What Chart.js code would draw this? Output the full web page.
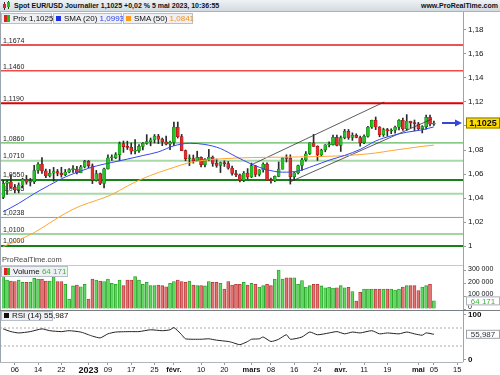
<!DOCTYPE html>
<html>
<head>
<meta charset="utf-8">
<script src="https://cdn.jsdelivr.net/npm/chart.js@4.4.1/dist/chart.umd.min.js"></script>
<style>
  body { margin: 0; width: 500px; height: 375px; position: relative; overflow: hidden; background: #fff;
         font-family: "Liberation Sans", Arial, sans-serif; color: #111; }
  canvas { position: absolute; left: 0; }
  #hdr { position: absolute; left: 0; top: 0; width: 500px; height: 12px; box-sizing: border-box;
         background: linear-gradient(#eef2f5, #d2dae1); border-bottom: 1px solid #a7b2bc;
         font-size: 7px; font-weight: bold; line-height: 11px; }
  #hdr .t { position: absolute; left: 14px; top: 0; }
  #hdr .r { position: absolute; right: 2px; top: 0; }
  .box { position: absolute; height: 11px; line-height: 9px; font-size: 8px; box-sizing: border-box;
         background: #eef0f3; border: 1px solid #b7bfc8; padding-left: 2px; white-space: nowrap; }
  .sq { display: inline-block; width: 5px; height: 5px; margin-right: 3px; }
  .rg { display: inline-block; width: 6px; height: 7px; margin-right: 3px; vertical-align: -1px;
        background: linear-gradient(90deg, #d22 50%, #2b2 50%); }
  .ln { position: absolute; }
  .wm { position: absolute; left: 2px; top: 255px; font-size: 7.5px; color: #444; }
</style>
</head>
<body>
<div id="hdr">
  <span class="ln" style="left:4px;top:2px;width:1px;height:8px;background:#333"></span>
  <span class="ln" style="left:3px;top:4px;width:3px;height:4px;background:#d22"></span>
  <span class="ln" style="left:8px;top:1px;width:1px;height:8px;background:#333"></span>
  <span class="ln" style="left:7px;top:2px;width:3px;height:5px;background:#2b2"></span>
  <span class="t">Spot EUR/USD Journalier 1,1025 +0,02 % 5 mai 2023, 10:36:55</span>
  <span class="r">www.ProRealTime.com</span>
</div>

<canvas id="main" width="500" height="242" style="top:11px"></canvas>
<canvas id="vol" width="500" height="50" style="top:265px"></canvas>
<canvas id="rsi" width="500" height="70" style="top:305px"></canvas>

<div class="ln" style="left:0;top:12px;width:1px;height:350px;background:#9aa4ad"></div>
<div class="ln" style="left:463px;top:12px;width:1px;height:350px;background:#9aa4ad"></div>
<div class="ln" style="left:0;top:265px;width:463px;height:1px;background:#c4cad0"></div>
<div class="ln" style="left:0;top:310px;width:500px;height:1px;background:#7a7f85"></div>
<div class="ln" style="left:0;top:362px;width:463px;height:1px;background:#b0b6bc"></div>

<div class="box" style="left:1px;top:13px;width:51px"><span class="rg"></span>Prix 1,1025</div>
<div class="box" style="left:53px;top:13px;width:69px"><span class="sq" style="background:#1d2fe8"></span>SMA (20) <span style="color:#2b3ef0">1,0993</span></div>
<div class="box" style="left:123px;top:13px;width:70px"><span class="sq" style="background:#ff9a1a"></span>SMA (50) <span style="color:#f5901a">1,0841</span></div>

<div class="wm">ProRealTime.com</div>
<div class="box" style="left:1px;top:266px;width:67px"><span class="rg"></span>Volume <span style="color:#3cb83c">64 171</span></div>
<div class="box" style="left:1px;top:311px;width:52px;height:10px;line-height:8px"><span class="sq" style="background:#111"></span>RSI (14) 55,987</div>

<script>
// daily candles, 1 Dec 2022 -> 5 May 2023 (index 0..111)
const opens = [1.0405,1.0522,1.0535,1.0491,1.0468,1.0507,1.0556,1.0532,1.0537,1.0629,
  1.0682,1.0626,1.0583,1.0606,1.0621,1.0606,1.0595,1.0616,1.0636,1.0640,
  1.0612,1.0659,1.0705,1.0669,1.0546,1.0603,1.0521,1.0643,1.0734,1.0737,
  1.0762,1.0853,1.0828,1.0822,1.0790,1.0795,1.0830,1.0855,1.0870,1.0884,
  1.0915,1.0890,1.0868,1.0848,1.0863,1.0990,1.0911,1.0795,1.0727,1.0728,
  1.0712,1.0739,1.0678,1.0722,1.0740,1.0688,1.0671,1.0695,1.0687,1.0649,
  1.0604,1.0594,1.0546,1.0608,1.0576,1.0668,1.0597,1.0635,1.0682,1.0546,
  1.0544,1.0580,1.0641,1.0732,1.0730,1.0577,1.0610,1.0671,1.0718,1.0769,
  1.0860,1.0830,1.0760,1.0800,1.0843,1.0845,1.0906,1.0839,1.0903,1.0955,
  1.0905,1.0922,1.0904,1.0862,1.0913,1.0990,1.1047,1.0992,1.0927,1.0970,
  1.0958,1.0966,1.0990,1.1048,1.0975,1.1040,1.1028,1.1019,1.0977,1.0995,
  1.1072,1.1015];
const highs = [1.0545,1.0545,1.0595,1.0513,1.0526,1.0565,1.0588,1.0564,1.0673,1.0695,
  1.0736,1.0640,1.0638,1.0655,1.0638,1.0656,1.0638,1.0645,1.0670,1.0664,
  1.0672,1.0714,1.0713,1.0684,1.0630,1.0608,1.0650,1.0760,1.0760,1.0778,
  1.0867,1.0875,1.0874,1.0858,1.0887,1.0845,1.0861,1.0928,1.0900,1.0929,
  1.0930,1.0900,1.0915,1.0874,1.1033,1.1033,1.0930,1.0800,1.0760,1.0758,
  1.0790,1.0743,1.0728,1.0805,1.0750,1.0725,1.0700,1.0710,1.0704,1.0665,
  1.0630,1.0599,1.0621,1.0645,1.0691,1.0672,1.0637,1.0694,1.0694,1.0565,
  1.0584,1.0700,1.0736,1.0760,1.0760,1.0613,1.0675,1.0730,1.0787,1.0860,
  1.0930,1.0835,1.0807,1.0845,1.0868,1.0925,1.0925,1.0917,1.0972,1.0971,
  1.0943,1.0935,1.0915,1.0926,1.0998,1.1049,1.1075,1.0995,1.0982,1.0980,
  1.0977,1.1000,1.1053,1.1067,1.1095,1.1040,1.1050,1.1030,1.1003,1.1092,
  1.1092,1.1040];
const lows = [1.0395,1.0429,1.0480,1.0443,1.0443,1.0484,1.0515,1.0500,1.0520,1.0604,
  1.0605,1.0570,1.0575,1.0540,1.0585,1.0574,1.0586,1.0608,1.0614,1.0600,
  1.0610,1.0651,1.0652,1.0520,1.0540,1.0511,1.0483,1.0640,1.0713,1.0728,
  1.0710,1.0780,1.0804,1.0766,1.0767,1.0779,1.0801,1.0847,1.0835,1.0858,
  1.0853,1.0836,1.0843,1.0802,1.0836,1.0900,1.0794,1.0710,1.0670,1.0690,
  1.0710,1.0660,1.0660,1.0710,1.0664,1.0656,1.0612,1.0663,1.0640,1.0590,
  1.0577,1.0533,1.0536,1.0560,1.0570,1.0578,1.0583,1.0616,1.0546,1.0524,
  1.0536,1.0577,1.0640,1.0700,1.0516,1.0550,1.0600,1.0630,1.0707,1.0762,
  1.0830,1.0713,1.0745,1.0785,1.0826,1.0840,1.0834,1.0788,1.0893,1.0889,
  1.0880,1.0901,1.0831,1.0853,1.0906,1.0980,1.0970,1.0910,1.0913,1.0915,
  1.0936,1.0940,1.0967,1.0964,1.0965,1.0985,1.0960,1.0967,1.0942,1.0974,
  1.1000,1.1005];
const closes = [1.0522,1.0535,1.0491,1.0468,1.0507,1.0556,1.0532,1.0537,1.0629,1.0682,
  1.0626,1.0583,1.0606,1.0621,1.0606,1.0595,1.0616,1.0636,1.0640,1.0612,
  1.0659,1.0705,1.0669,1.0546,1.0603,1.0521,1.0643,1.0734,1.0737,1.0762,
  1.0853,1.0828,1.0822,1.0790,1.0795,1.0830,1.0855,1.0870,1.0884,1.0915,
  1.0890,1.0868,1.0848,1.0863,1.0990,1.0911,1.0795,1.0727,1.0728,1.0712,
  1.0739,1.0678,1.0722,1.0740,1.0688,1.0671,1.0695,1.0687,1.0649,1.0604,
  1.0594,1.0546,1.0608,1.0576,1.0668,1.0597,1.0635,1.0682,1.0546,1.0544,
  1.0580,1.0641,1.0732,1.0730,1.0577,1.0610,1.0671,1.0718,1.0769,1.0860,
  1.0830,1.0760,1.0800,1.0843,1.0845,1.0906,1.0839,1.0903,1.0955,1.0905,
  1.0922,1.0904,1.0862,1.0913,1.0990,1.1047,1.0992,1.0927,1.0970,1.0958,
  1.0966,1.0990,1.1048,1.0975,1.1040,1.1028,1.1019,1.0977,1.0995,1.1072,
  1.1015,1.1025];
const volumes = [280000,229000,221000,216000,229000,211000,211000,211000,242000,237000,
  237000,221000,221000,255000,216000,216000,195000,79000,182000,189000,
  176000,195000,79000,237000,229000,221000,216000,237000,203000,195000,
  229000,184000,229000,229000,255000,229000,195000,211000,184000,184000,
  189000,184000,176000,203000,216000,229000,216000,211000,221000,189000,
  184000,184000,182000,216000,211000,211000,203000,158000,216000,189000,
  195000,195000,211000,189000,203000,195000,174000,184000,195000,184000,
  237000,308000,237000,247000,247000,247000,195000,224000,174000,184000,
  195000,195000,182000,168000,174000,166000,168000,184000,168000,171000,
  137000,63000,132000,158000,158000,158000,158000,158000,158000,158000,
  158000,150000,158000,174000,184000,184000,184000,145000,174000,184000,
  195000,64171];

// moving averages and RSI: [day index, value]
const sma20 = [[0,1.0285],[4,1.0355],[8,1.0436],[12,1.0508],[16,1.0575],[20,1.0625],[24,1.0667],
  [28,1.0696],[32,1.0724],[36,1.0754],[40,1.0784],[44,1.0835],[48,1.0856],[52,1.0846],[56,1.0812],
  [60,1.0745],[64,1.0682],[68,1.0636],[72,1.0615],[76,1.0625],[80,1.0668],[84,1.0715],[88,1.0755],
  [92,1.0805],[96,1.0875],[100,1.0918],[104,1.0948],[108,1.0968],[111,1.0993]];
const sma50 = [[0,0.9995],[4,1.0050],[8,1.0112],[12,1.0192],[16,1.0272],[20,1.0335],[24,1.0380],
  [28,1.0428],[32,1.0500],[36,1.0562],[40,1.0612],[44,1.0655],[48,1.0695],[52,1.0715],[56,1.0726],
  [60,1.0733],[64,1.0737],[68,1.0739],[72,1.0740],[76,1.0742],[80,1.0745],[84,1.0748],[88,1.0752],
  [92,1.0762],[96,1.0775],[100,1.0795],[104,1.0813],[108,1.0830],[111,1.0841]];
const rsi = [[0,68],[2,62],[4,59],[7,62],[10,68],[12,64],[15,62],[17,64],[20,61],[22,55],[23,52],
  [25,48],[27,57],[29,61],[33,62],[35,62],[38,66],[41,64],[43,66],[44,71],[46,55],[47,46],[51,45],
  [53,46],[55,43],[58,40],[59,38],[61,33],[63,40],[64,45],[66,46],[67,50],[69,40],[71,45],[73,55],
  [74,45],[77,50],[79,61],[81,55],[84,59],[86,62],[88,57],[90,61],[92,59],[95,64],[97,57],[99,59],
  [102,57],[104,61],[106,57],[108,54],[109,59],[111,55.987]];

// channel lines drawn on the price panel: [day index, price]
const trendUpper = [[63.6,1.0671],[98.2,1.1200]];
const trendLower = [[74.2,1.0538],[110.5,1.1058]];

const levelValues = [1.1674, 1.1460, 1.1190, 1.0860, 1.0710, 1.0550, 1.0435, 1.0238, 1.0100, 1.0000];
const levelColors = ['#e41b1b','#f04a4a','#e00000','#5cb85c','#a8d8a8','#178017','#a8d8a8','#66bb66','#44aa44','#178017'];
const levelWidths = [1.5, 1.5, 2, 1.2, 2, 2.2, 2, 1, 1, 2.2];

const priceTicks = [1.00, 1.02, 1.04, 1.06, 1.08, 1.10, 1.12, 1.14, 1.16, 1.18];
const volTicks = [0, 100000, 200000, 300000];
const rsiTicks = [0, 100];
const rsiLevels = [70, 30];

const tickIdx = [3, 9, 15, 22, 27, 33, 39, 44, 51, 57, 64, 69, 75, 81, 87, 93, 99, 107, 111, 117];
const tickText = ['06','14','22','2023','09','17','25','févr.','10','20','mars','08','16','24','avr.','11','19','mai','05','15'];

const fam = '"Liberation Sans", Arial, sans-serif';
Chart.defaults.font.family = fam;
Chart.defaults.animation = false;
Chart.defaults.plugins.legend.display = false;
Chart.defaults.plugins.tooltip.enabled = false;

const xMin = -0.3, xMax = 118.5;
const idx = closes.map((c, i) => i);
const up = closes.map((c, i) => c >= opens[i]);
const pts = arr => arr.map(([x, y]) => ({ x, y }));
const comma = (v, d) => v.toFixed(d).replace('.', ',');

function xScale(show) {
  return {
    type: 'linear', min: xMin, max: xMax, offset: false, display: show,
    afterFit: s => {
      s.height = show ? 13 : 0;
      s.paddingLeft = 0;
      s.paddingRight = 0;
    },
    afterBuildTicks: s => { s.ticks = tickIdx.map(v => ({ value: v })); },
    grid: { drawOnChartArea: false, tickLength: 3, color: '#999' },
    border: { display: false },
    ticks: {
      autoSkip: false, maxRotation: 0, padding: 0, color: '#111',
      callback: v => tickText[tickIdx.indexOf(v)],
      font: c => {
        const t = c.tick ? tickText[tickIdx.indexOf(c.tick.value)] : '';
        if (t === '2023') return { size: 9, weight: 'bold' };
        if (t && isNaN(+t)) return { size: 7.5, weight: 'bold' };
        return { size: 7.5 };
      }
    }
  };
}

function yScale(min, max, vals, fmt, font, labelOffset) {
  return {
    position: 'right', min, max,
    afterFit: s => { s.width = 37; s.paddingTop = 0; s.paddingBottom = 0; },
    afterBuildTicks: s => { s.ticks = vals.map(v => ({ value: v })); },
    grid: { drawOnChartArea: false, tickLength: 3, color: '#999' },
    border: { display: false },
    ticks: { padding: 2, color: '#111', font, labelOffset: labelOffset || 0, callback: fmt }
  };
}

// horizontal reference lines, drawn under the marks
function levelPlugin(values, colors, widths, dash, withLabels) {
  return {
    id: 'levels',
    beforeDatasetsDraw(chart) {
      const { ctx, chartArea: a } = chart;
      const y = chart.scales.y;
      values.forEach((v, i) => {
        const py = y.getPixelForValue(v);
        ctx.save();
        ctx.strokeStyle = colors[i];
        ctx.lineWidth = widths[i];
        ctx.setLineDash(dash);
        ctx.beginPath();
        ctx.moveTo(a.left - 2, py);
        ctx.lineTo(a.right, py);
        ctx.stroke();
        if (withLabels) {
          ctx.fillStyle = '#222';
          ctx.font = '7px ' + fam;
          ctx.textBaseline = 'alphabetic';
          ctx.fillText(comma(v, 4), a.left + 1, py - widths[i] / 2 - 1.5);
        }
        ctx.restore();
      });
    }
  };
}

// value tag in the right axis column
function tagPlugin(value, text, fill, stroke, color, bold) {
  return {
    id: 'tag',
    afterDraw(chart) {
      const { ctx, chartArea: a } = chart;
      const py = chart.scales.y.getPixelForValue(value);
      const h = bold ? 11 : 9;
      ctx.save();
      ctx.fillStyle = fill;
      ctx.strokeStyle = stroke;
      ctx.lineWidth = 1;
      ctx.fillRect(a.right + 3, py - h / 2, 34, h);
      ctx.strokeRect(a.right + 3.5, py - h / 2 + 0.5, 33, h - 1);
      ctx.fillStyle = color;
      ctx.font = (bold ? 'bold 9px ' : '8px ') + fam;
      ctx.textAlign = 'center';
      ctx.textBaseline = 'middle';
      ctx.fillText(text, a.right + 20, py + 0.5);
      ctx.restore();
    }
  };
}

const lastClose = closes[closes.length - 1];
const arrowPlugin = {
  id: 'arrow',
  afterDatasetsDraw(chart) {
    const { ctx, chartArea: a } = chart;
    const py = chart.scales.y.getPixelForValue(lastClose);
    ctx.save();
    ctx.strokeStyle = '#3546d8';
    ctx.fillStyle = '#3546d8';
    ctx.lineWidth = 2;
    ctx.beginPath();
    ctx.moveTo(a.right - 21, py);
    ctx.lineTo(a.right - 6, py);
    ctx.stroke();
    ctx.beginPath();
    ctx.moveTo(a.right - 1, py);
    ctx.lineTo(a.right - 8, py - 3.5);
    ctx.lineTo(a.right - 8, py + 3.5);
    ctx.closePath();
    ctx.fill();
    ctx.restore();
  }
};

const lineDs = (data, color, width, tension) => ({
  type: 'line', data: pts(data), borderColor: color, borderWidth: width,
  pointRadius: 0, tension, cubicInterpolationMode: tension ? 'monotone' : 'default', order: 0
});

// price panel
new Chart(document.getElementById('main'), {
  type: 'bar',
  data: {
    datasets: [
      lineDs(sma20, '#3546ee', 1, 0.4),
      lineDs(sma50, '#ffa531', 1, 0.4),
      lineDs(trendUpper, '#333', 0.8, 0),
      lineDs(trendLower, '#333', 0.8, 0),
      {
        data: idx.map(i => ({ x: i, y: [opens[i], closes[i]] })),
        backgroundColor: up.map(u => u ? '#27c227' : '#e52b2b'),
        borderColor: up.map(u => u ? '#0e6e0e' : '#8a1010'),
        borderWidth: 0.5, borderSkipped: false, barThickness: 3, minBarLength: 1,
        grouped: false, order: 1
      },
      {
        data: idx.map(i => ({ x: i, y: [lows[i], highs[i]] })),
        backgroundColor: '#2a2a2a', barThickness: 1, grouped: false, order: 2
      }
    ]
  },
  options: {
    responsive: false,
    layout: { padding: { left: 2, right: 0, top: 0, bottom: 0 } },
    scales: {
      x: xScale(false),
      y: yScale(0.99417, 1.19583, priceTicks,
        v => Math.abs(v - 1) < 1e-9 ? '1' : comma(v, 2), { size: 8 })
    }
  },
  plugins: [
    levelPlugin(levelValues, levelColors, levelWidths, [], true),
    arrowPlugin,
    tagPlugin(lastClose, comma(lastClose, 4), '#ffdc00', '#8a7a00', '#111', true)
  ]
});

// volume panel
new Chart(document.getElementById('vol'), {
  type: 'bar',
  data: {
    datasets: [{
      data: idx.map(i => ({ x: i, y: volumes[i] })),
      backgroundColor: up.map(u => u ? '#62d862' : '#e47474'),
      borderColor: up.map(u => u ? '#1f9d1f' : '#b23232'),
      borderWidth: 0.8, barThickness: 3, grouped: false
    }]
  },
  options: {
    responsive: false,
    layout: { padding: { left: 2, right: 0, top: 0, bottom: 6 } },
    scales: {
      x: xScale(false),
      y: yScale(0, 347368, volTicks,
        v => v === 0 ? '0' : (v / 1000) + ' 000', { size: 7 }, -2)
    }
  },
  plugins: [tagPlugin(volumes[volumes.length - 1], '64 171', '#fff', '#aab2ba', '#3cb83c', false)]
});

// RSI panel with the date axis
new Chart(document.getElementById('rsi'), {
  type: 'line',
  data: {
    datasets: [{
      data: pts(rsi), borderColor: '#222', borderWidth: 1, pointRadius: 0,
      tension: 0.2
    }]
  },
  options: {
    responsive: false,
    layout: { padding: { left: 2, right: 0, top: 7, bottom: 0 } },
    scales: {
      x: xScale(true),
      y: yScale(-5.56, 105.56, rsiTicks, v => String(v), { size: 8, weight: 'bold' })
    }
  },
  plugins: [
    levelPlugin(rsiLevels, ['#aaa', '#aaa'], [1, 1], [2, 2], false),
    tagPlugin(55.987, '55,987', '#fff', '#99a3ad', '#333', false)
  ]
});
</script>
</body>
</html>
